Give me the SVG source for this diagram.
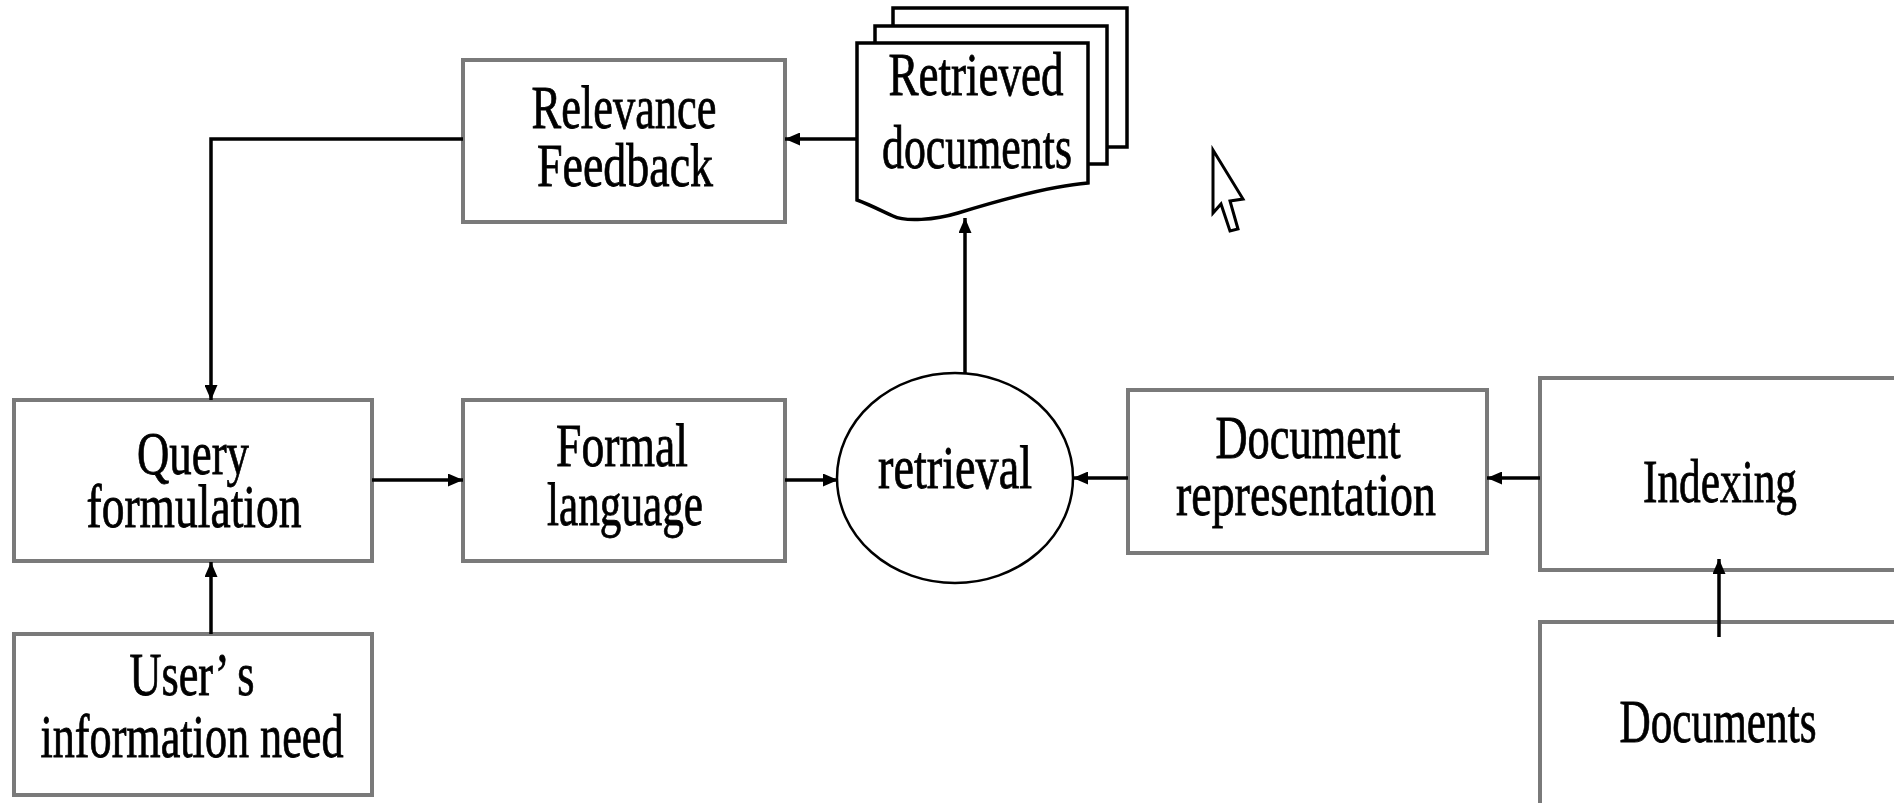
<svg xmlns="http://www.w3.org/2000/svg" width="1894" height="803" viewBox="0 0 1894 803">
<style>
.box{fill:#ffffff;stroke:#7a7a7a;stroke-width:4}
.page{fill:#ffffff;stroke:#000000;stroke-width:3.5}
.ell{fill:#ffffff;stroke:#000000;stroke-width:2.5}
.lbl{font-family:"Liberation Serif","Times New Roman",serif;font-size:62px;fill:#000000;stroke:#000000;stroke-width:0.8;text-anchor:middle}
.conn{fill:none;stroke:#000000;stroke-width:3.5}
</style>
<defs>
<marker id="ah" viewBox="0 0 15 13" refX="15" refY="6.5" markerWidth="15" markerHeight="13" markerUnits="userSpaceOnUse" orient="auto">
<path d="M0,0 L15,6.5 L0,13 Z" fill="#000000"/>
</marker>
</defs>
<rect width="1894" height="803" fill="#ffffff"/>

<g id="relevance-feedback">
<rect class="box" x="463" y="60" width="322" height="162"/>
<text class="lbl" x="624" y="128" textLength="185" lengthAdjust="spacingAndGlyphs">Relevance</text>
<text class="lbl" x="625" y="186" textLength="176" lengthAdjust="spacingAndGlyphs">Feedback</text>
</g>

<g id="retrieved-documents">
<rect class="page" x="893" y="8" width="234" height="139"/>
<rect class="page" x="875" y="26" width="232" height="138"/>
<path class="page" d="M857,43 H1088 V183 C1050,186 1000,200 958,213 C935,220 905,222 893,216 C880,210 868,204 857,200 Z"/>
<text class="lbl" x="976" y="95" textLength="175" lengthAdjust="spacingAndGlyphs">Retrieved</text>
<text class="lbl" x="977" y="168" textLength="190" lengthAdjust="spacingAndGlyphs">documents</text>
</g>

<g id="query-formulation">
<rect class="box" x="14" y="400" width="358" height="161"/>
<text class="lbl" x="193" y="474" textLength="112" lengthAdjust="spacingAndGlyphs">Query</text>
<text class="lbl" x="194" y="527" textLength="215" lengthAdjust="spacingAndGlyphs">formulation</text>
</g>

<g id="users-information-need">
<rect class="box" x="14" y="634" width="358" height="161"/>
<text class="lbl" x="192" y="695" textLength="125" lengthAdjust="spacingAndGlyphs">User’ s</text>
<text class="lbl" x="192" y="757" textLength="303" lengthAdjust="spacingAndGlyphs">information need</text>
</g>

<g id="formal-language">
<rect class="box" x="463" y="400" width="322" height="161"/>
<text class="lbl" x="622" y="466" textLength="132" lengthAdjust="spacingAndGlyphs">Formal</text>
<text class="lbl" x="625" y="525" textLength="156" lengthAdjust="spacingAndGlyphs">language</text>
</g>

<g id="retrieval">
<ellipse class="ell" cx="955" cy="478" rx="118" ry="105"/>
<text class="lbl" x="955" y="488" textLength="154" lengthAdjust="spacingAndGlyphs">retrieval</text>
</g>

<g id="document-representation">
<rect class="box" x="1128" y="390" width="359" height="163"/>
<text class="lbl" x="1308" y="458" textLength="185" lengthAdjust="spacingAndGlyphs">Document</text>
<text class="lbl" x="1306" y="515" textLength="260" lengthAdjust="spacingAndGlyphs">representation</text>
</g>

<g id="indexing">
<rect class="box" x="1540" y="378" width="380" height="192"/>
<text class="lbl" x="1720" y="502" textLength="154" lengthAdjust="spacingAndGlyphs">Indexing</text>
</g>

<g id="documents">
<rect class="box" x="1540" y="622" width="380" height="200"/>
<text class="lbl" x="1718" y="742" textLength="197" lengthAdjust="spacingAndGlyphs">Documents</text>
</g>

<g id="cursor">
<polygon points="1213,150 1213,213 1221,204 1230,231 1238,229 1230,201 1243,199" fill="#ffffff" stroke="#000000" stroke-width="3" stroke-linejoin="miter"/>
</g>

<g id="connectors">
<path class="conn" d="M857,139 H785" marker-end="url(#ah)"/>
<path class="conn" d="M463,139 H211 V400" marker-end="url(#ah)"/>
<path class="conn" d="M211,634 V562" marker-end="url(#ah)"/>
<path class="conn" d="M372,480 H463" marker-end="url(#ah)"/>
<path class="conn" d="M785,480 H838" marker-end="url(#ah)"/>
<path class="conn" d="M965,373 V218" marker-end="url(#ah)"/>
<path class="conn" d="M1128,478 H1073" marker-end="url(#ah)"/>
<path class="conn" d="M1540,478 H1487" marker-end="url(#ah)"/>
<path class="conn" d="M1719,637 V559" marker-end="url(#ah)"/>
</g>
</svg>
